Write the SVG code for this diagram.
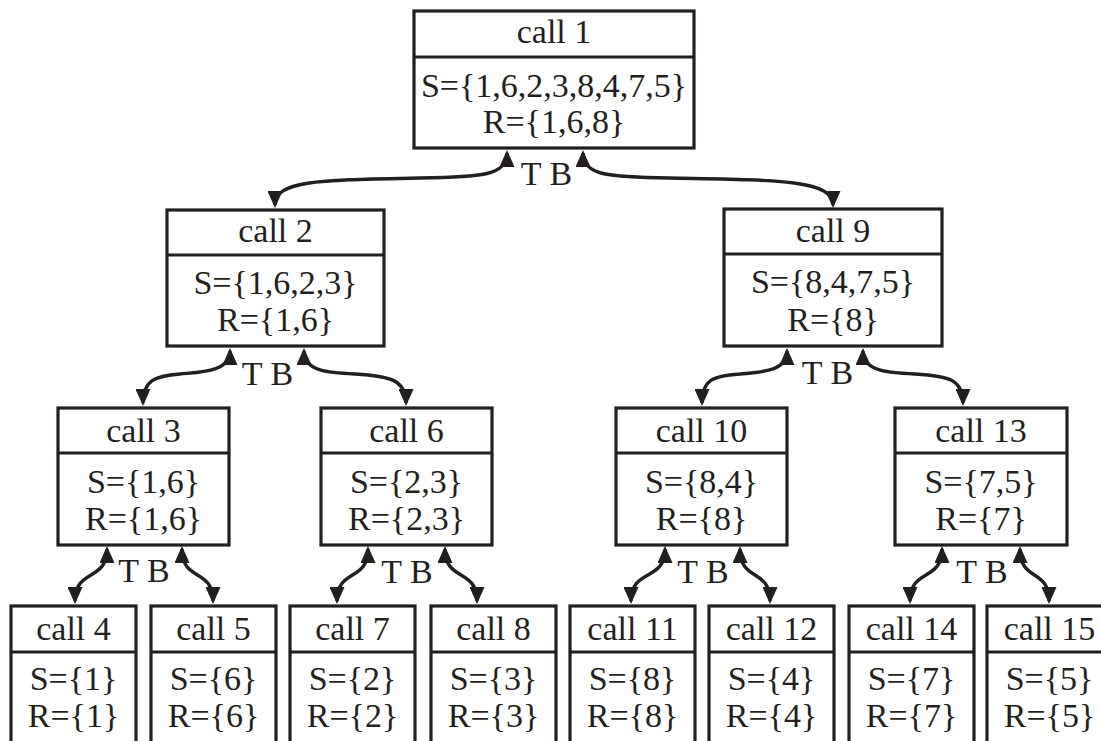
<svg xmlns="http://www.w3.org/2000/svg" width="1101" height="741" viewBox="0 0 1101 741">
  <defs>
    <marker id="head" viewBox="0 0 17 15" markerUnits="userSpaceOnUse" markerWidth="17" markerHeight="15" refX="14" refY="7.5" orient="auto-start-reverse">
      <path d="M0,0 L17,7.5 L0,15 z" fill="#231f20"/>
    </marker>
    <style>
      .box { fill: #ffffff; stroke: #231f20; stroke-width: 3.2; }
      .div { stroke: #231f20; stroke-width: 3.2; }
      .t { font-family: "Liberation Serif", "Times New Roman", serif; font-size: 34px; fill: #231f20; text-anchor: middle; }
      .link { fill: none; stroke: #231f20; stroke-width: 3.4; marker-start: url(#head); marker-end: url(#head); }
    </style>
  </defs>
  <rect width="1101" height="741" fill="#ffffff"/>

  <!-- recursion calls -->
  <g id="call1">
    <rect class="box" x="414" y="11" width="280" height="137"/>
    <line class="div" x1="414" y1="57" x2="694" y2="57"/>
    <text class="t" x="554" y="43">call 1</text>
    <text class="t" x="554" y="97">S={1,6,2,3,8,4,7,5}</text>
    <text class="t" x="554" y="133">R={1,6,8}</text>
  </g>

  <g id="call2">
    <rect class="box" x="167" y="210" width="217" height="136"/>
    <line class="div" x1="167" y1="255" x2="384" y2="255"/>
    <text class="t" x="275.5" y="242">call 2</text>
    <text class="t" x="275.5" y="294">S={1,6,2,3}</text>
    <text class="t" x="275.5" y="331">R={1,6}</text>
  </g>

  <g id="call9">
    <rect class="box" x="724" y="209" width="218" height="137"/>
    <line class="div" x1="724" y1="254" x2="942" y2="254"/>
    <text class="t" x="833" y="242">call 9</text>
    <text class="t" x="833" y="293">S={8,4,7,5}</text>
    <text class="t" x="833" y="331">R={8}</text>
  </g>

  <g id="call3">
    <rect class="box" x="58" y="408" width="171" height="137"/>
    <line class="div" x1="58" y1="453" x2="229" y2="453"/>
    <text class="t" x="143.5" y="442">call 3</text>
    <text class="t" x="143.5" y="493">S={1,6}</text>
    <text class="t" x="143.5" y="530">R={1,6}</text>
  </g>

  <g id="call6">
    <rect class="box" x="321" y="408" width="171" height="137"/>
    <line class="div" x1="321" y1="453" x2="492" y2="453"/>
    <text class="t" x="406.5" y="442">call 6</text>
    <text class="t" x="406.5" y="493">S={2,3}</text>
    <text class="t" x="406.5" y="530">R={2,3}</text>
  </g>

  <g id="call10">
    <rect class="box" x="616" y="408" width="171" height="137"/>
    <line class="div" x1="616" y1="453" x2="787" y2="453"/>
    <text class="t" x="701.5" y="442">call 10</text>
    <text class="t" x="701.5" y="493">S={8,4}</text>
    <text class="t" x="701.5" y="530">R={8}</text>
  </g>

  <g id="call13">
    <rect class="box" x="895" y="408" width="172" height="137"/>
    <line class="div" x1="895" y1="453" x2="1067" y2="453"/>
    <text class="t" x="981" y="442">call 13</text>
    <text class="t" x="981" y="493">S={7,5}</text>
    <text class="t" x="981" y="530">R={7}</text>
  </g>

  <!-- leaf calls (run past the bottom edge) -->
  <g id="call4">
    <rect class="box" x="11" y="606" width="125" height="160"/>
    <line class="div" x1="11" y1="652" x2="136" y2="652"/>
    <text class="t" x="73.5" y="640">call 4</text>
    <text class="t" x="73.5" y="690">S={1}</text>
    <text class="t" x="73.5" y="727">R={1}</text>
  </g>
  <g id="call5">
    <rect class="box" x="151" y="606" width="125" height="160"/>
    <line class="div" x1="151" y1="652" x2="276" y2="652"/>
    <text class="t" x="213.5" y="640">call 5</text>
    <text class="t" x="213.5" y="690">S={6}</text>
    <text class="t" x="213.5" y="727">R={6}</text>
  </g>
  <g id="call7">
    <rect class="box" x="290" y="606" width="125" height="160"/>
    <line class="div" x1="290" y1="652" x2="415" y2="652"/>
    <text class="t" x="352.5" y="640">call 7</text>
    <text class="t" x="352.5" y="690">S={2}</text>
    <text class="t" x="352.5" y="727">R={2}</text>
  </g>
  <g id="call8">
    <rect class="box" x="431" y="606" width="125" height="160"/>
    <line class="div" x1="431" y1="652" x2="556" y2="652"/>
    <text class="t" x="493.5" y="640">call 8</text>
    <text class="t" x="493.5" y="690">S={3}</text>
    <text class="t" x="493.5" y="727">R={3}</text>
  </g>
  <g id="call11">
    <rect class="box" x="570" y="606" width="125" height="160"/>
    <line class="div" x1="570" y1="652" x2="695" y2="652"/>
    <text class="t" x="632.5" y="640">call 11</text>
    <text class="t" x="632.5" y="690">S={8}</text>
    <text class="t" x="632.5" y="727">R={8}</text>
  </g>
  <g id="call12">
    <rect class="box" x="709" y="606" width="125" height="160"/>
    <line class="div" x1="709" y1="652" x2="834" y2="652"/>
    <text class="t" x="771.5" y="640">call 12</text>
    <text class="t" x="771.5" y="690">S={4}</text>
    <text class="t" x="771.5" y="727">R={4}</text>
  </g>
  <g id="call14">
    <rect class="box" x="849" y="606" width="125" height="160"/>
    <line class="div" x1="849" y1="652" x2="974" y2="652"/>
    <text class="t" x="911.5" y="640">call 14</text>
    <text class="t" x="911.5" y="690">S={7}</text>
    <text class="t" x="911.5" y="727">R={7}</text>
  </g>
  <g id="call15">
    <rect class="box" x="987" y="606" width="125" height="160"/>
    <line class="div" x1="987" y1="652" x2="1112" y2="652"/>
    <text class="t" x="1049.5" y="640">call 15</text>
    <text class="t" x="1049.5" y="690">S={5}</text>
    <text class="t" x="1049.5" y="727">R={5}</text>
  </g>

  <!-- two-way links between each call and its sub-calls -->
  <g id="connectors">
    <path class="link" d="M507,153 C507,176 480,177 420,178 C320,180 275,180 275,205"/>
    <path class="link" d="M583,153 C583,176 610,177 670,178 C780,180 833,180 833,205"/>

    <path class="link" d="M230,351 C230,372 200,372 180,374 C155,376 143,380 143,403"/>
    <path class="link" d="M304,351 C304,372 330,373 355,374 C390,376 406,380 406,403"/>
    <path class="link" d="M787,351 C787,372 760,372 740,374 C712,376 702,380 702,403"/>
    <path class="link" d="M863,351 C863,372 890,373 915,374 C950,376 963,380 963,403"/>

    <path class="link" d="M107,549 C107,582 75,568 75,601"/>
    <path class="link" d="M182,549 C182,582 213,568 213,601"/>
    <path class="link" d="M368,549 C368,582 337,568 337,601"/>
    <path class="link" d="M445,549 C445,582 477,568 477,601"/>
    <path class="link" d="M665,549 C665,582 631,568 631,601"/>
    <path class="link" d="M740,549 C740,582 770,568 770,601"/>
    <path class="link" d="M942,549 C942,582 910,568 910,601"/>
    <path class="link" d="M1020,549 C1020,582 1049,568 1049,601"/>

    <text class="t" x="546.5" y="185">T B</text>
    <text class="t" x="267.5" y="385">T B</text>
    <text class="t" x="827.5" y="384">T B</text>
    <text class="t" x="144" y="582">T B</text>
    <text class="t" x="407" y="583">T B</text>
    <text class="t" x="703" y="583">T B</text>
    <text class="t" x="982" y="583">T B</text>
  </g>
</svg>
